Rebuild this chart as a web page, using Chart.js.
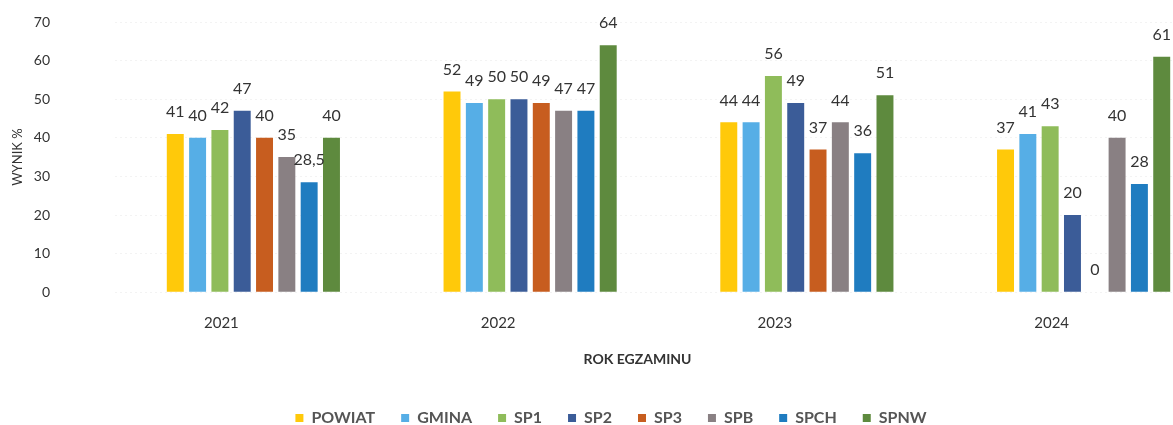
<!DOCTYPE html>
<html>
<head>
<meta charset="utf-8">
<script src="https://cdn.jsdelivr.net/npm/chart.js@4.4.1/dist/chart.umd.min.js"></script>
<style>
  html, body { margin: 0; padding: 0; background: #fff; overflow: hidden; }
  #wrap { position: relative; width: 1240px; height: 436px; }
</style>
</head>
<body>
<div id="wrap"><canvas id="chart"></canvas></div>
<script>
const years = ['2021', '2022', '2023', '2024'];

const powiat = [41, 52, 44, 37];
const gmina  = [40, 49, 44, 41];
const sp1    = [42, 50, 56, 43];
const sp2    = [47, 50, 49, 20];
const sp3    = [40, 49, 37, 0];
const spb    = [35, 47, 44, 40];
const spch   = [28.5, 47, 36, 28];
const spnw   = [40, 64, 51, 61];

const seriesNames  = ['POWIAT', 'GMINA', 'SP1', 'SP2', 'SP3', 'SPB', 'SPCH', 'SPNW'];
const seriesValues = [powiat, gmina, sp1, sp2, sp3, spb, spch, spnw];
const seriesColors = ['#ffc90a', '#56aee6', '#8fbc5a', '#3b5c98', '#c75d1f', '#898083', '#1f7cc0', '#5e8a3e'];

const yTicks = [0, 10, 20, 30, 40, 50, 60, 70];

const textColor = '#333333';
const fontFamily = 'Lato, "Open Sans", sans-serif';

// values above the bars, Polish decimal comma
const valueLabels = {
    id: 'valueLabels',
    afterDatasetsDraw(chart) {
        const ctx = chart.ctx;
        ctx.save();
        ctx.font = '16px ' + fontFamily;
        ctx.fillStyle = textColor;
        ctx.textAlign = 'center';
        ctx.textBaseline = 'middle';
        chart.data.datasets.forEach((ds, i) => {
            const meta = chart.getDatasetMeta(i);
            meta.data.forEach((bar, j) => {
                ctx.fillText(String(ds.data[j]).replace('.', ','), bar.x, bar.y - 22);
            });
        });
        ctx.restore();
    }
};

// the original has the category labels and axis title sitting left of the bar groups
const shiftXTitle = {
    id: 'shiftXTitle',
    afterLayout(chart) {
        const x = chart.scales.x;
        if (x._shifted) return;
        const orig = x.drawTitle;
        x.drawTitle = function (...args) {
            this.ctx.save();
            this.ctx.translate(-31, 0);
            orig.apply(this, args);
            this.ctx.restore();
        };
        x._shifted = true;
    }
};

new Chart(document.getElementById('chart'), {
    type: 'bar',
    data: {
        labels: years,
        datasets: seriesNames.map((name, i) => ({
            label: name,
            data: seriesValues[i],
            backgroundColor: seriesColors[i],
            borderWidth: 0,
            barPercentage: 0.76,
            categoryPercentage: 0.645
        }))
    },
    options: {
        responsive: true,
        maintainAspectRatio: false,
        animation: false,
        layout: { padding: { top: 22, right: 18, bottom: 0, left: 0 } },
        plugins: {
            legend: {
                position: 'bottom',
                labels: {
                    boxWidth: 8,
                    boxHeight: 8,
                    padding: 26,
                    color: '#555',
                    font: { family: fontFamily, size: 16, weight: 'bold' }
                }
            },
            tooltip: { enabled: false }
        },
        scales: {
            x: {
                grid: { display: false },
                border: { display: false },
                ticks: {
                    color: textColor,
                    font: { family: fontFamily, size: 15 },
                    padding: 14,
                    labelOffset: -32
                },
                title: {
                    display: true,
                    text: 'ROK EGZAMINU',
                    color: textColor,
                    font: { family: fontFamily, size: 14, weight: 'bold' },
                    padding: { top: 5, bottom: 16 }
                }
            },
            y: {
                min: 0,
                max: 70,
                afterBuildTicks(scale) {
                    scale.ticks = yTicks.map(v => ({ value: v }));
                },
                afterFit(scale) {
                    scale.width = 115;
                    scale.paddingTop = 8;
                    scale.paddingBottom = 8;
                },
                grid: { color: '#f3f3f3', drawTicks: false },
                border: { display: false, dash: [2, 3] },
                ticks: {
                    color: textColor,
                    font: { family: fontFamily, size: 14 },
                    padding: 65
                },
                title: {
                    display: true,
                    text: 'WYNIK %',
                    color: textColor,
                    font: { family: fontFamily, size: 13 },
                    padding: { top: 10, bottom: 0 }
                }
            }
        }
    },
    plugins: [valueLabels, shiftXTitle]
});
</script>
</body>
</html>
